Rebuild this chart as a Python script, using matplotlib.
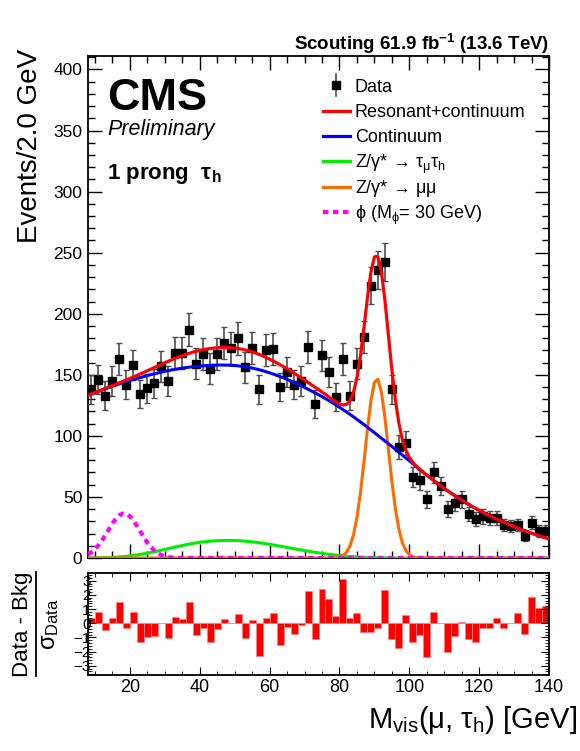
import numpy as np
import matplotlib
matplotlib.use("Agg")
import matplotlib.pyplot as plt
from matplotlib.ticker import MultipleLocator

plt.rcParams['font.family'] = ['Liberation Sans', 'DejaVu Sans']
plt.rcParams['mathtext.fontset'] = 'custom'
plt.rcParams['mathtext.rm'] = 'Liberation Sans'
plt.rcParams['mathtext.it'] = 'Liberation Sans:italic'
plt.rcParams['mathtext.bf'] = 'Liberation Sans:bold'
plt.rcParams['mathtext.default'] = 'regular'

# data: 2 GeV bins from 8 to 140
bin_centers = np.arange(9, 140, 2)
counts = [138, 146, 133, 145, 163, 142, 158, 134, 139, 143,
          157, 145, 168, 168, 187, 159, 167, 155, 167, 176,
          172, 180, 156, 172, 138, 170, 171, 140, 152, 142,
          145, 173, 126, 166, 152, 132, 163, 133, 159, 181,
          223, 236, 242, 138, 91, 94, 66, 64, 48, 70,
          59, 40, 45, 48, 36, 32, 34, 33, 33, 27,
          26, 27, 18, 29, 22, 22]
pulls = [0.35, 0.8, -0.45, 0.35, 1.5, -0.3, 0.8, -1.35, -1.0, -0.9,
         0.05, -1.05, 0.45, 0.3, 1.5, -0.8, -0.3, -1.35, -0.4, 0.3,
         0.0, 0.65, -1.05, 0.25, -2.3, 0.4, 0.7, -1.5, -0.25, -0.75,
         -0.1, 2.3, -1.1, 2.45, 1.75, 0.5, 3.1, 0.4, 0.7, -0.6,
         -0.6, -0.35, 2.35, -1.1, -1.75, 0.6, -1.3, -0.8, -2.4, 0.8,
         0.0, -2.05, -0.9, 0.1, -1.1, -1.3, -0.3, -0.3, 0.35, -0.35,
         0.0, 0.7, -0.75, 1.85, 1.1, 1.25]

# fit curves
grid2 = np.arange(8, 141, 2)
continuum = [133, 135.3, 137.5, 139.6, 141.6, 143.5, 145.3, 147, 148.6, 150.1,
             151.5, 152.8, 154, 155, 155.9, 156.6, 157.2, 157.6, 157.9, 158,
             157.9, 157.6, 157, 156.1, 154.9, 153.4, 151.6, 149.6, 147.4, 145,
             142.4, 139.6, 136.7, 133.7, 130.5, 127.1, 123.4, 119.6, 115.6, 111.4,
             107.1, 102.6, 98.1, 93.6, 89.0, 84.3, 79.6, 74.8, 70.1, 65.6,
             61.2, 57.0, 53.0, 49.2, 45.6, 42.2, 39.0, 36.0, 33.2, 30.6,
             28.2, 25.6, 23.4, 21.3, 19.3, 17.4, 15.6]
ztautau = [0, 0.1, 0.2, 0.4, 0.7, 1.1, 1.7, 2.5, 3.4, 4.5,
           5.7, 7.0, 8.3, 9.6, 10.8, 11.9, 12.8, 13.5, 14.0, 14.3,
           14.4, 14.3, 14.0, 13.5, 12.9, 12.1, 11.2, 10.2, 9.2, 8.1,
           7.1, 6.1, 5.1, 4.2, 3.4, 2.7, 2.0, 1.5, 1.1, 0.7,
           0.5, 0.3, 0.2, 0.1, 0.05, 0, 0, 0, 0, 0,
           0, 0, 0, 0, 0, 0, 0, 0, 0, 0,
           0, 0, 0, 0, 0, 0, 0]

zmumu_m = [8] + list(range(78, 105)) + [140]
zmumu = [0, 0.1, 0.3, 0.8, 2.0, 4.6, 9.7, 18.7, 33.1, 53.3, 78.4,
         105.2, 128.7, 143.7, 146.4, 136.0, 115.3, 89.2, 62.9, 40.5, 23.8,
         12.7, 6.2, 2.8, 1.1, 0.4, 0.1, 0, 0]

total_m = list(range(8, 77, 2)) + list(range(77, 106)) + list(range(106, 141, 2))
total = [133, 135.4, 137.7, 140.0, 142.3, 144.6, 147.0, 149.5, 152.0, 154.6,
         157.2, 159.8, 162.3, 164.6, 166.7, 168.5, 170.0, 171.1, 171.9, 172.3,
         172.3, 171.9, 171.0, 169.6, 167.8, 165.5, 162.8, 159.8, 156.6, 153.1,
         149.5, 145.7, 141.8, 137.9, 133.9,
         131.8, 129.8, 127.9, 126.2, 125.3, 125.7, 128.6, 135.4, 147.5, 165.4,
         188.3, 212.8, 234.0, 246.6, 247.0, 234.3, 211.3, 182.9, 154.3, 129.6,
         110.5, 97.0, 88.2, 82.4, 78.3, 75.2, 72.6, 70.1, 67.85,
         65.6, 61.2, 57.0, 53.0, 49.2, 45.6, 42.2, 39.0, 36.0, 33.2,
         30.6, 28.2, 25.6, 23.4, 21.3, 19.3, 17.4, 15.6]

phi_m = list(range(8, 35)) + [140]
phi = [3.0, 4.7, 7.2, 10.4, 14.3, 18.8, 23.6, 28.2, 32.2, 35.1,
       36.4, 36.1, 34.1, 30.7, 26.4, 21.7, 16.9, 12.6, 9.0, 6.1,
       4.0, 2.4, 1.4, 0.8, 0.4, 0.2, 0.1, 0]

fig = plt.figure(figsize=(5.8, 7.51), dpi=100)
ax = fig.add_axes([0.1517, 0.257, 0.7949, 0.6684])
rax = fig.add_axes([0.1517, 0.1012, 0.7949, 0.1358])

err = np.sqrt(counts)
ax.errorbar(bin_centers, counts, yerr=err, fmt='s', color='black', ms=6,
            ecolor='0.3', elinewidth=1.2, capsize=2.5, capthick=1.0, zorder=3)
ax.plot(grid2, ztautau, color='#00ee00', lw=2.2, zorder=4)
ax.plot(zmumu_m, zmumu, color='#ff6a00', lw=2.2, zorder=4)
ax.plot(phi_m, phi, color='#ff00ff', lw=3, dashes=(1.3, 1.1), zorder=4.5)
ax.plot(grid2, continuum, color='#0000ff', lw=2.2, zorder=5)
ax.plot(total_m, total, color='#ff0000', lw=2.3, zorder=6)

ax.set_xlim(8, 140)
ax.set_ylim(0, 411)
ax.xaxis.set_major_locator(MultipleLocator(20))
ax.xaxis.set_minor_locator(MultipleLocator(5))
ax.yaxis.set_major_locator(MultipleLocator(50))
ax.yaxis.set_minor_locator(MultipleLocator(10))
ax.tick_params(which='both', direction='in', top=True, right=True,
               labelbottom=False, labelsize=12.5, pad=4)
ax.tick_params(which='major', length=10, width=1.0)
ax.tick_params(which='minor', length=5, width=1.0)
for s in ax.spines.values():
    s.set_linewidth(1.3)

# legend, drawn by hand
tr = ax.transAxes
lx0, lx1, ltx = 0.51, 0.568, 0.579
ly0, ldy = 0.942, 0.0506
entries = [('Data', None),
           ('Resonant+continuum', dict(color='#ff0000', lw=2.3)),
           ('Continuum', dict(color='#0000ff', lw=2.3)),
           (r'Z/$\gamma$* → $\tau_{\mu}\tau_{h}$', dict(color='#00ee00', lw=2.3)),
           (r'Z/$\gamma$* → $\mu\mu$', dict(color='#ff6a00', lw=2.3)),
           (r'$\phi$ (M$_{\phi}$= 30 GeV)', dict(color='#ff00ff', lw=3, dashes=(1.3, 1.1)))]
for i, (lab, sty) in enumerate(entries):
    yy = ly0 - i * ldy
    if sty is None:
        xm = 0.5 * (lx0 + lx1)
        ax.plot([xm, xm], [yy - 0.022, yy + 0.022], color='0.3', lw=1.2, transform=tr, clip_on=False)
        ax.plot([xm], [yy], 's', color='black', ms=6, transform=tr, clip_on=False)
    else:
        ax.plot([lx0, lx1], [yy, yy], transform=tr, clip_on=False, **sty)
    ax.text(ltx, yy - 0.013, lab, transform=tr, fontsize=13, va='baseline', ha='left')

ax.text(0.041, 0.893, 'CMS', transform=tr, fontsize=32.5, fontweight='bold', va='baseline')
ax.text(0.041, 0.843, 'Preliminary', transform=tr, fontsize=15.5, style='italic', va='baseline')
ax.text(0.041, 0.755, r'1 prong  $\tau_{\mathbf{h}}$', transform=tr, fontsize=16,
        fontweight='bold', va='baseline')
fig.text(0.9466, 0.934, r'Scouting 61.9 fb$^{\mathbf{-1}}$ (13.6 TeV)', fontsize=13.5,
         fontweight='bold', ha='right', va='baseline')
fig.text(0.052, 0.935, 'Events/2.0 GeV', rotation=90, fontsize=20, ha='center', va='top')

# pull panel
rax.bar(bin_centers, pulls, width=2, color='#ff0000', edgecolor='#ff8080', linewidth=0.6)
rax.set_xlim(8, 140)
rax.set_ylim(-3.65, 3.55)
rax.xaxis.set_major_locator(MultipleLocator(20))
rax.xaxis.set_minor_locator(MultipleLocator(5))
rax.yaxis.set_major_locator(MultipleLocator(1))
rax.yaxis.set_minor_locator(MultipleLocator(0.2))
rax.tick_params(which='both', direction='in', top=True, right=True)
rax.tick_params(axis='x', which='major', length=6, labelsize=13, pad=3)
rax.tick_params(axis='x', which='minor', length=3)
rax.tick_params(axis='y', which='major', length=6, labelsize=11, pad=-2)
rax.tick_params(axis='y', which='minor', length=3)
for s in rax.spines.values():
    s.set_linewidth(1.3)

# pull-panel y title as a stacked fraction
fig.text(0.038, 0.1685, 'Data - Bkg', rotation=90, fontsize=16, ha='center', va='center')
fig.add_artist(plt.Line2D([0.062, 0.062], [0.100, 0.238], color='black', lw=1.3))
fig.text(0.086, 0.1685, r'$\sigma_{Data}$', rotation=90, fontsize=17, ha='center', va='center')
fig.text(0.995, 0.041, r'M$_{vis}$($\mu$, $\tau_{h}$) [GeV]', fontsize=21, ha='right', va='center')

fig.savefig('out.png', dpi=100)
